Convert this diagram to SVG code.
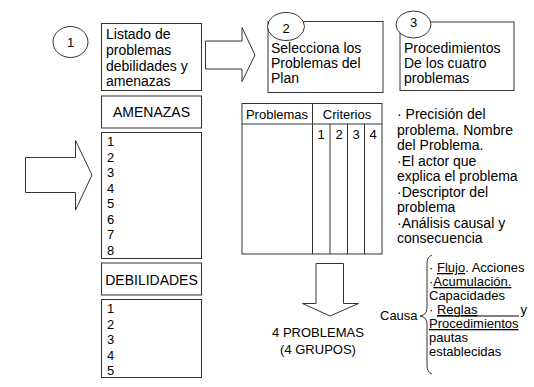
<svg xmlns="http://www.w3.org/2000/svg" width="534" height="387" viewBox="0 0 534 387">
<style>
text{font-family:"Liberation Sans",Arial,sans-serif;fill:#000;font-size:14px}
.box{fill:#fff;stroke:#333;stroke-width:1}
.arr{fill:#fff;stroke:#333;stroke-width:1}
.sm{font-size:13px}
.u{text-decoration:underline}
</style>
<rect width="534" height="387" fill="#fff"/>
<g id="connectors">
<polygon class="arr" points="205.5,41 242,41 242,27.5 255,55 242,81.5 242,69 205.5,69"/>
<polygon class="arr" points="25.5,157.5 75.5,157.5 75.5,140.5 92,175 75.5,210 75.5,192.5 25.5,192.5"/>
<polygon class="arr" points="316,263.5 343.5,263.5 343.5,303.5 358.5,303.5 330,316 302.5,303.5 316,303.5"/>
</g>
<g id="n1">
<ellipse class="box" cx="70.5" cy="42" rx="17.5" ry="15.5"/>
<text x="70.5" y="47" text-anchor="middle" class="sm">1</text>
</g>
<g id="listado">
<rect class="box" x="101.5" y="23.5" width="100" height="67"/>
<text x="106" y="39">Listado de</text>
<text x="106" y="55">problemas</text>
<text x="106" y="71">debilidades y</text>
<text x="106" y="86">amenazas</text>
</g>
<g id="amenazas">
<rect class="box" x="101.5" y="96" width="100" height="32"/>
<text x="151.5" y="117" text-anchor="middle">AMENAZAS</text>
</g>
<g id="amenazas-list">
<rect class="box" x="101.5" y="132.5" width="100" height="126"/>
<text x="107" y="146" class="sm">1</text>
<text x="107" y="161.5" class="sm">2</text>
<text x="107" y="177" class="sm">3</text>
<text x="107" y="192.5" class="sm">4</text>
<text x="107" y="208" class="sm">5</text>
<text x="107" y="223.5" class="sm">6</text>
<text x="107" y="239" class="sm">7</text>
<text x="107" y="254.5" class="sm">8</text>
</g>
<g id="debilidades">
<rect class="box" x="101.5" y="263" width="100" height="32"/>
<text x="151.5" y="285" text-anchor="middle">DEBILIDADES</text>
</g>
<g id="debilidades-list">
<rect class="box" x="101.5" y="299.5" width="100" height="78"/>
<text x="107" y="313" class="sm">1</text>
<text x="107" y="328.5" class="sm">2</text>
<text x="107" y="344" class="sm">3</text>
<text x="107" y="359.5" class="sm">4</text>
<text x="107" y="375" class="sm">5</text>
</g>
<g id="selecciona">
<rect class="box" x="268" y="21.5" width="115" height="71"/>
<ellipse class="box" cx="286" cy="26.5" rx="18.5" ry="14"/>
<text x="286" y="33" text-anchor="middle" class="sm">2</text>
<text x="271" y="53">Selecciona los</text>
<text x="271" y="68">Problemas del</text>
<text x="271" y="83">Plan</text>
</g>
<g id="procedimientos">
<rect class="box" x="400" y="22" width="114" height="68.5"/>
<ellipse class="box" cx="413.5" cy="24.5" rx="17.5" ry="13.5"/>
<text x="413.5" y="27" text-anchor="middle" class="sm">3</text>
<text x="404" y="53">Procedimientos</text>
<text x="404" y="68">De los cuatro</text>
<text x="404" y="83">problemas</text>
</g>
<g id="tabla">
<rect class="box" x="242" y="103.5" width="140" height="150.5"/>
<line x1="242" y1="124" x2="382" y2="124" stroke="#333"/>
<line x1="312.5" y1="103.5" x2="312.5" y2="254" stroke="#333"/>
<line x1="330" y1="124" x2="330" y2="254" stroke="#333"/>
<line x1="347.5" y1="124" x2="347.5" y2="254" stroke="#333"/>
<line x1="364.5" y1="124" x2="364.5" y2="254" stroke="#333"/>
<text x="277" y="119" text-anchor="middle" class="sm">Problemas</text>
<text x="347" y="119" text-anchor="middle" class="sm">Criterios</text>
<text x="321" y="139" text-anchor="middle" class="sm">1</text>
<text x="339" y="139" text-anchor="middle" class="sm">2</text>
<text x="356" y="139" text-anchor="middle" class="sm">3</text>
<text x="373" y="139" text-anchor="middle" class="sm">4</text>
</g>
<g id="detalle">
<text x="397" y="119">· Precisión del</text>
<text x="397" y="134.5">problema. Nombre</text>
<text x="397" y="150">del Problema.</text>
<text x="397" y="165.5">·El actor que</text>
<text x="397" y="181">explica el problema</text>
<text x="397" y="196.5">·Descriptor del</text>
<text x="397" y="212">problema</text>
<text x="397" y="227.5">·Análisis causal y</text>
<text x="397" y="243">consecuencia</text>
</g>
<g id="resultado">
<text x="318" y="337" text-anchor="middle" class="sm">4 PROBLEMAS</text>
<text x="318" y="354" text-anchor="middle" class="sm">(4 GRUPOS)</text>
</g>
<g id="causa">
<text x="380" y="320" class="sm">Causa</text>
<path d="M432,255 Q427,257 427,263 L427,308 Q427,315 420,316 Q427,317 427,324 L427,366 Q427,372 432,374" fill="none" stroke="#333"/>
<text x="429" y="272" class="sm">· <tspan class="u">Flujo</tspan>. Acciones</text>
<text x="429" y="286" class="sm">·<tspan class="u">Acumulación.</tspan></text>
<text x="429" y="300" class="sm">Capacidades</text>
<text x="429" y="314" class="sm">· <tspan class="u">Reglas</tspan></text>
<line x1="437" y1="316" x2="519" y2="316" stroke="#000" stroke-width="1"/>
<text x="527" y="314" class="sm" text-anchor="end">y</text>
<text x="429" y="328" class="sm u">Procedimientos</text>
<text x="429" y="342" class="sm">pautas</text>
<text x="429" y="356" class="sm">establecidas</text>
</g>
</svg>
